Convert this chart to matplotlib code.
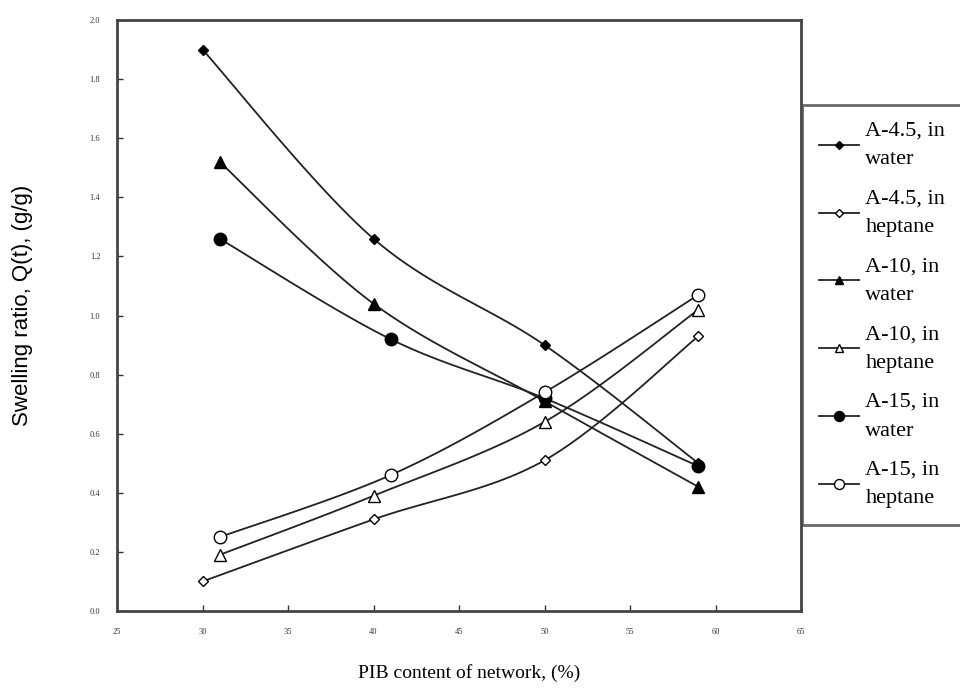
import matplotlib

matplotlib.use("Agg")
import matplotlib.pyplot as plt
import numpy as np

plt.rcParams["font.family"] = ["Liberation Serif", "DejaVu Serif"]

# swelling ratio Q(t) vs PIB content
x_a45 = [30, 40, 50, 59]
water_a45 = [1.90, 1.26, 0.90, 0.50]
heptane_a45 = [0.10, 0.31, 0.51, 0.93]

x_a10 = [31, 40, 50, 59]
water_a10 = [1.52, 1.04, 0.71, 0.42]
heptane_a10 = [0.19, 0.39, 0.64, 1.02]

x_a15 = [31, 41, 50, 59]
water_a15 = [1.26, 0.92, 0.72, 0.49]
heptane_a15 = [0.25, 0.46, 0.74, 1.07]

labels = [
    "A-4.5, in\nwater", "A-4.5, in\nheptane",
    "A-10, in\nwater", "A-10, in\nheptane",
    "A-15, in\nwater", "A-15, in\nheptane",
]

XLIM = (25, 65)
YLIM = (0, 2.0)


def smooth(xs, ys, n=30):
    """Catmull-Rom curve through the points (like a spreadsheet 'smoothed line')."""
    sx = (XLIM[1] - XLIM[0])
    sy = (YLIM[1] - YLIM[0])
    p = np.column_stack([(np.asarray(xs) - XLIM[0]) / sx, (np.asarray(ys) - YLIM[0]) / sy])
    p = np.vstack([p[0], p, p[-1]])
    out = []
    for i in range(1, len(p) - 2):
        p0, p1, p2, p3 = p[i - 1], p[i], p[i + 1], p[i + 2]
        t = np.linspace(0, 1, n)[:, None]
        seg = 0.5 * ((2 * p1) + (-p0 + p2) * t + (2 * p0 - 5 * p1 + 4 * p2 - p3) * t ** 2
                     + (-p0 + 3 * p1 - 3 * p2 + p3) * t ** 3)
        out.append(seg if i == len(p) - 3 else seg[:-1])
    c = np.vstack(out)
    return c[:, 0] * sx + XLIM[0], c[:, 1] * sy + YLIM[0]


fig = plt.figure(figsize=(9.6, 6.88), dpi=100)
ax = fig.add_axes([0.1219, 0.1119, 0.7125, 0.859])

series = [
    (x_a45, water_a45, "D", "black", 5),
    (x_a45, heptane_a45, "D", "white", 5),
    (x_a10, water_a10, "^", "black", 8),
    (x_a10, heptane_a10, "^", "white", 8),
    (x_a15, water_a15, "o", "black", 9),
    (x_a15, heptane_a15, "o", "white", 9),
]

handles = []
for (xs, ys, mk, fc, ms), lab in zip(series, labels):
    cx, cy = smooth(xs, ys)
    ax.plot(cx, cy, color="#222222", lw=1.3, zorder=2)
    ax.plot(xs, ys, ls="none", marker=mk, mfc=fc, mec="black", mew=1.0, ms=ms, zorder=3)
    h, = ax.plot([], [], color="#222222", lw=1.3, marker=mk, mfc=fc, mec="black",
                 mew=1.0, ms=ms * 0.8, label=lab)
    handles.append(h)

ax.set_xlim(*XLIM)
ax.set_ylim(*YLIM)
ax.set_xticks(np.arange(25, 66, 5))
ax.set_yticks(np.arange(0, 2.01, 0.2))
ax.set_xticklabels([str(v) for v in range(25, 66, 5)])
ax.set_yticklabels([f"{v:.1f}" for v in np.arange(0, 2.01, 0.2)])
ax.tick_params(direction="in", length=4, width=1, labelsize=6, colors="#333333", pad=12)
for s in ax.spines.values():
    s.set_linewidth(2)
    s.set_color("#444444")

ax.set_xlabel("PIB content of network, (%)", fontsize=14)
ax.xaxis.set_label_coords(0.515, -0.09)
ax.set_ylabel("Swelling ratio, Q(t), (g/g)", fontsize=16,
              family=["Liberation Sans", "DejaVu Sans"])
ax.yaxis.set_label_coords(-0.123, 0.518)

leg = fig.legend(handles=handles, loc="upper left", bbox_to_anchor=(0.8354, 0.8474),
                 bbox_transform=fig.transFigure, fontsize=16, frameon=True, fancybox=False,
                 borderaxespad=0, handlelength=1.8, handletextpad=0.3, labelspacing=0.9,
                 borderpad=0.75)
for t in leg.get_texts():
    t.set_linespacing(1.7)
leg.get_frame().set_edgecolor("#444444")
leg.get_frame().set_linewidth(2)

fig.savefig("out.png", dpi=100)
